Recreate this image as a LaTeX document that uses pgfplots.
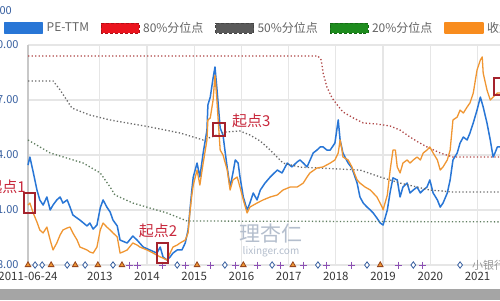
\documentclass[border=0pt]{standalone}
\usepackage{fontspec}
\setmainfont{Noto Sans CJK SC}
\usepackage{pgfplots}
\pgfplotsset{compat=1.18}
\definecolor{peblue}{RGB}{40,118,214}
\definecolor{idxorange}{RGB}{240,150,50}
\definecolor{redq}{RGB}{175,70,70}
\definecolor{grayq}{RGB}{105,105,105}
\definecolor{greenq}{RGB}{95,125,95}
\definecolor{legred}{RGB}{235,20,30}
\definecolor{leggray}{RGB}{90,90,90}
\definecolor{leggreen}{RGB}{30,140,30}
\definecolor{legorange}{RGB}{248,140,30}
\definecolor{gridgray}{RGB}{230,230,230}
\definecolor{axgray}{RGB}{200,200,200}
\definecolor{ylab}{RGB}{55,95,160}
\definecolor{xlab}{RGB}{55,55,55}
\definecolor{txtgray}{RGB}{100,100,100}
\definecolor{annored}{RGB}{200,40,60}
\definecolor{boxred}{RGB}{165,35,45}
\definecolor{wm}{RGB}{180,190,205}
\definecolor{plusp}{RGB}{140,80,180}
\definecolor{tribrown}{RGB}{150,70,30}
\definecolor{wechat}{RGB}{150,150,150}
\definecolor{band}{RGB}{165,165,165}
\begin{document}
\begin{tikzpicture}[x=1bp,y=1bp]
\fill[white] (0,0) rectangle (500,300);
\begin{axis}[
  at={(28bp,35bp)}, anchor=south west, scale only axis,
  width=492bp, height=220bp,
  xmin=2011.48, xmax=2021.90, ymin=8, ymax=20,
  clip=false,
  scaled x ticks=false, scaled y ticks=false,
  xtick={2011.48,2013,2014,2015,2016,2017,2018,2019,2020,2021},
  xticklabels={2011-06-24,2013,2014,2015,2016,2017,2018,2019,2020,2021},
  ytick={8,11,14,17,20},
  /pgf/number format/assume math mode=true,
  yticklabel style={/pgf/number format/fixed, /pgf/number format/fixed zerofill, /pgf/number format/precision=2},
  yticklabel style={font=\fontsize{11bp}{13bp}\selectfont, text=ylab, xshift=-6bp},
  xticklabel style={font=\fontsize{11.5bp}{13bp}\selectfont, text=xlab, yshift=-4bp},
  grid=major, major grid style={draw=gridgray, line width=1.2bp},
  major tick length=0pt,
  axis x line*=bottom, axis y line*=left,
  x axis line style={draw=none},
  y axis line style={draw=axgray, line width=1.6bp},
  legend columns=-1,
  legend style={at={(-0.0498,1.0773)}, anchor=west, draw=none, fill=none,
    inner sep=0pt, nodes={inner xsep=3.5bp, inner ysep=1bp},
    font=\fontsize{12bp}{14bp}\selectfont, text=txtgray,
    /tikz/every even column/.append style={column sep=8.5bp}},
]
\addplot[peblue, line width=1.5bp, line join=round,
  legend image code/.code={\fill[peblue] (0bp,-5bp) rectangle (38bp,5bp);}] coordinates {
(2011.48,13.45) (2011.52,13.89) (2011.59,13.07) (2011.67,12.09) (2011.73,11.55) (2011.80,11.27)
(2011.88,11.71) (2011.95,11.00) (2012.01,11.27) (2012.09,11.55) (2012.16,11.71) (2012.22,11.38)
(2012.31,11.55) (2012.37,11.16) (2012.43,10.73) (2012.52,10.56) (2012.58,10.45) (2012.73,10.13)
(2012.79,10.29) (2012.86,9.96) (2012.94,10.18) (2013.01,11.11) (2013.07,11.55) (2013.15,11.16)
(2013.22,10.89) (2013.28,10.45) (2013.37,10.13) (2013.43,9.36) (2013.58,9.20) (2013.70,9.58)
(2013.79,9.36) (2013.92,8.98) (2014.06,8.82) (2014.21,8.65) (2014.28,8.98) (2014.34,8.44)
(2014.42,8.27) (2014.49,8.44) (2014.55,8.65) (2014.64,8.82) (2014.74,8.82) (2014.81,9.20)
(2014.87,9.91) (2014.91,11.00) (2014.95,12.09) (2014.98,12.80) (2015.06,13.56) (2015.12,12.80)
(2015.19,14.11) (2015.27,15.36) (2015.29,16.73) (2015.34,17.16) (2015.40,18.20) (2015.44,18.80)
(2015.48,17.65) (2015.55,15.47) (2015.61,15.09) (2015.65,14.27) (2015.70,13.29) (2015.76,12.25)
(2015.82,13.02) (2015.87,13.73) (2015.93,13.56) (2015.97,12.80) (2016.04,11.71) (2016.12,11.00)
(2016.18,11.38) (2016.25,11.93) (2016.33,11.55) (2016.40,12.09) (2016.50,12.47) (2016.61,12.80)
(2016.76,13.18) (2016.86,13.02) (2016.97,13.56) (2017.07,13.35) (2017.18,13.62) (2017.24,13.73)
(2017.31,13.56) (2017.39,13.35) (2017.52,14.11) (2017.60,14.27) (2017.67,14.44) (2017.73,14.44)
(2017.81,14.27) (2017.88,14.27) (2017.98,14.65) (2018.05,15.91) (2018.09,14.82) (2018.15,14.11)
(2018.26,13.56) (2018.34,13.29) (2018.45,12.47) (2018.51,11.71) (2018.58,11.38) (2018.66,11.16)
(2018.73,11.00) (2018.79,10.84) (2018.87,10.56) (2018.94,10.29) (2019.00,10.18) (2019.09,11.00)
(2019.15,11.98) (2019.21,12.75) (2019.30,12.64) (2019.36,11.71) (2019.42,12.25) (2019.51,12.47)
(2019.57,11.93) (2019.64,12.09) (2019.72,12.25) (2019.79,11.93) (2019.85,12.09) (2019.93,12.25)
(2019.99,12.64) (2020.06,11.93) (2020.15,11.55) (2020.21,11.16) (2020.27,11.38) (2020.36,11.93)
(2020.42,12.64) (2020.48,13.73) (2020.57,14.11) (2020.63,14.65) (2020.70,14.98) (2020.78,14.82)
(2020.84,15.20) (2020.91,15.75) (2020.99,16.45) (2021.06,17.16) (2021.12,16.62) (2021.20,15.75)
(2021.27,14.82) (2021.33,13.89) (2021.37,14.11) (2021.42,14.44) (2021.48,14.44) (2021.59,14.27)
(2021.69,14.38) (2021.90,14.20)
};
\addlegendentry{PE-TTM}
\addplot[redq, line width=1.3bp, dash pattern=on 1.3bp off 2.2bp,
  legend image code/.code={\draw[fill=legred, draw=legred!75!black, densely dashed, line width=0.6bp] (0bp,-5bp) rectangle (38bp,5bp);}] coordinates {
(2011.48,19.40) (2017.62,19.40) (2017.69,19.18) (2017.73,18.47) (2017.81,17.71) (2017.92,17.11)
(2018.03,16.73) (2018.15,16.35) (2018.37,16.02) (2018.58,15.75) (2018.87,15.69) (2019.15,15.58)
(2019.36,15.36) (2019.57,14.98) (2019.74,14.71) (2019.93,14.44) (2020.21,14.11) (2020.48,13.89)
(2021.90,13.89)
};
\addlegendentry{80\%分位点}
\addplot[grayq, line width=1.3bp, dash pattern=on 1.3bp off 2.2bp,
  legend image code/.code={\draw[fill=leggray, draw=leggray!75!black, densely dashed, line width=0.6bp] (0bp,-5bp) rectangle (38bp,5bp);}] coordinates {
(2011.48,18.04) (2012.01,18.04) (2012.16,17.55) (2012.41,16.56) (2012.79,16.18) (2013.22,15.91)
(2014.06,15.53) (2014.70,15.20) (2015.19,14.82) (2015.48,15.09) (2015.65,15.25) (2015.97,15.31)
(2016.18,15.09) (2016.40,14.76) (2016.61,14.27) (2016.88,13.56) (2017.24,13.34) (2018.51,13.18)
(2018.94,12.80) (2019.36,12.47) (2019.99,12.09) (2020.48,11.98) (2021.90,11.98)
};
\addlegendentry{50\%分位点}
\addplot[greenq, line width=1.3bp, dash pattern=on 1.3bp off 2.2bp,
  legend image code/.code={\draw[fill=leggreen, draw=leggreen!75!black, densely dashed, line width=0.6bp] (0bp,-5bp) rectangle (38bp,5bp);}] coordinates {
(2011.48,14.82) (2011.95,14.11) (2012.65,13.56) (2013.01,13.02) (2013.22,12.25) (2013.32,11.82)
(2013.70,11.38) (2014.06,11.11) (2014.42,10.84) (2014.85,10.40) (2021.90,10.35)
};
\addlegendentry{20\%分位点}
\addplot[idxorange, line width=1.3bp, line join=round,
  legend image code/.code={\fill[legorange] (0bp,-5bp) rectangle (38bp,5bp);}] coordinates {
(2011.48,11.27) (2011.52,11.38) (2011.59,10.84) (2011.67,10.34) (2011.73,9.91) (2011.80,9.75)
(2011.88,10.07) (2011.95,9.36) (2012.01,8.82) (2012.09,9.20) (2012.16,9.64) (2012.22,9.91)
(2012.31,10.02) (2012.37,10.07) (2012.43,9.75) (2012.52,9.36) (2012.58,8.98) (2012.73,8.82)
(2012.79,8.71) (2012.86,8.65) (2012.94,8.98) (2013.01,9.91) (2013.07,10.29) (2013.15,10.07)
(2013.22,9.91) (2013.28,9.75) (2013.37,9.53) (2013.43,8.65) (2013.49,8.71) (2013.58,8.82)
(2013.70,9.20) (2013.79,9.09) (2013.85,8.98) (2014.00,8.82) (2014.13,8.65) (2014.28,8.44)
(2014.34,8.38) (2014.42,8.27) (2014.49,8.65) (2014.55,8.98) (2014.64,9.09) (2014.70,9.20)
(2014.81,9.36) (2014.87,9.75) (2014.91,10.89) (2014.95,11.82) (2014.98,12.36) (2015.06,13.18)
(2015.12,12.36) (2015.19,13.56) (2015.27,14.82) (2015.29,15.91) (2015.34,16.02) (2015.40,17.00)
(2015.44,18.36) (2015.48,17.00) (2015.55,14.27) (2015.61,14.00) (2015.70,13.18) (2015.76,12.09)
(2015.82,12.64) (2015.91,12.80) (2015.97,12.25) (2016.04,11.55) (2016.12,10.84) (2016.18,11.16)
(2016.33,11.38) (2016.46,11.55) (2016.61,11.71) (2016.76,11.82) (2016.88,12.09) (2017.03,12.25)
(2017.18,12.25) (2017.31,12.47) (2017.39,12.80) (2017.45,13.02) (2017.60,13.29) (2017.73,13.35)
(2017.88,13.56) (2017.98,13.73) (2018.05,14.11) (2018.09,14.82) (2018.13,14.27) (2018.15,13.89)
(2018.26,13.73) (2018.34,13.35) (2018.45,12.64) (2018.51,12.47) (2018.62,12.25) (2018.73,12.09)
(2018.87,11.71) (2018.98,11.16) (2019.00,11.00) (2019.09,11.82) (2019.15,13.18) (2019.21,14.27)
(2019.26,14.27) (2019.30,13.35) (2019.36,13.02) (2019.42,13.56) (2019.51,13.73) (2019.57,13.56)
(2019.64,13.73) (2019.72,13.89) (2019.79,13.73) (2019.85,14.11) (2019.93,14.27) (2019.99,14.44)
(2020.06,14.11) (2020.15,13.73) (2020.21,13.18) (2020.27,13.35) (2020.36,13.73) (2020.42,14.27)
(2020.48,15.91) (2020.57,16.07) (2020.63,16.45) (2020.70,16.29) (2020.78,16.62) (2020.84,16.84)
(2020.91,17.38) (2020.99,18.64) (2021.06,19.18) (2021.10,19.35) (2021.12,18.47) (2021.20,17.55)
(2021.27,17.00) (2021.33,17.16) (2021.42,17.38) (2021.48,17.38) (2021.90,17.27)
};
\addlegendentry{收盘点位}
% event markers along the bottom
\addplot[forget plot, only marks, mark=diamond*, mark size=3.2bp,
  mark options={draw=ylab, fill=white, line width=0.8bp}] coordinates {
(2011.63,8) (2011.78,8) (2012.31,8) (2012.69,8) (2013.28,8) (2014.64,8) (2015.65,8)
(2016.65,8) (2017.62,8) (2018.66,8) (2019.64,8) (2020.63,8)
};
\addplot[forget plot, only marks, mark=+, mark size=3.5bp,
  mark options={draw=plusp, line width=1bp}] coordinates {
(2013.64,8) (2013.79,8) (2014.32,8) (2014.81,8) (2015.34,8) (2015.87,8) (2016.33,8)
(2016.82,8) (2017.31,8) (2017.81,8) (2018.34,8) (2019.32,8) (2019.83,8)
};
\addplot[forget plot, only marks, mark=triangle*, mark size=3.2bp,
  mark options={draw=tribrown, fill=idxorange, line width=0.8bp}] coordinates {
(2011.48,8) (2011.97,8) (2012.48,8) (2012.96,8) (2013.47,8) (2015.06,8) (2016.04,8)
(2017.09,8) (2018.94,8)
};
\end{axis}
% annotation boxes and labels (pixel coordinates: y = 300 - py)
\draw[boxred, line width=1.3bp] (24,107) rectangle (35,87);
\node[anchor=east, text=annored, font=\fontsize{15bp}{17bp}\selectfont, inner sep=0pt] at (26,113) {起点1};
\draw[boxred, line width=1.3bp] (157,57) rectangle (168,37);
\node[text=annored, font=\fontsize{15bp}{17bp}\selectfont, inner sep=0pt] at (158,69) {起点2};
\draw[boxred, line width=1.3bp] (213,177) rectangle (225,164);
\node[anchor=west, text=annored, font=\fontsize{15bp}{17bp}\selectfont, inner sep=0pt] at (232,179) {起点3};
\draw[boxred, line width=1.3bp] (494,222) rectangle (506,205);
% watermarks
\node[text=wm, font=\fontsize{21bp}{23bp}\selectfont, inner sep=0pt] at (271,66) {理杏仁};
\node[text=wm, font=\fontsize{10bp}{12bp}\selectfont, inner sep=0pt] at (271,48) {lixinger.com};
\node[text=wechat, font=\fontsize{11bp}{13bp}\selectfont, inner sep=0pt, anchor=west] at (472,35) {小银行};
\node[text=ylab, font=\fontsize{11bp}{13bp}\selectfont, inner sep=0pt, anchor=east] at (12,289) {00};
% bottom strip
\fill[band] (0,0) rectangle (500,11);
\pgfresetboundingbox
\path[use as bounding box] (0,0) rectangle (500,300);
\end{tikzpicture}
\end{document}
